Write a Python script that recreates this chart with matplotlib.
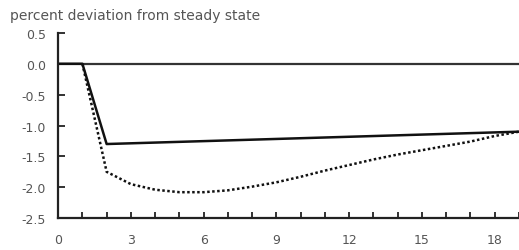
import numpy as np
import matplotlib.pyplot as plt

# periods and responses (percent deviation from steady state)
zero_x = [0, 19]
zero_y = [0.0, 0.0]

solid_x = [0, 1, 2, 19]
solid_y = [0.0, 0.0, -1.30, -1.10]

dotted_x = [1, 2, 3, 4, 5, 6, 7, 8, 9, 10, 11, 12, 13, 14, 15, 16, 17, 18, 19]
dotted_y = [0.0, -1.75, -1.95, -2.04, -2.08, -2.08, -2.05, -1.99, -1.92, -1.83,
            -1.73, -1.64, -1.55, -1.47, -1.40, -1.33, -1.26, -1.17, -1.10]

fig = plt.figure(figsize=(5.19, 2.51), dpi=100)
ax = fig.add_axes([0.112, 0.127, 0.888, 0.738])

ax.plot(zero_x, zero_y, color='#333333', lw=1.6, solid_capstyle='butt')
ax.plot(solid_x, solid_y, color='#111111', lw=1.8)
ax.plot(dotted_x, dotted_y, color='#111111', lw=1.8, ls=(0, (1, 1)))

ax.set_xlim(0, 19)
ax.set_ylim(-2.5, 0.5)
ax.set_xticks(np.arange(0, 19, 3))
ax.set_xticks(np.arange(0, 20, 1), minor=True)
ax.set_yticks(np.arange(-2.5, 0.51, 0.5))
ax.set_yticklabels(['%.1f' % v for v in np.arange(-2.5, 0.51, 0.5)])

for s in ['top', 'right']:
    ax.spines[s].set_visible(False)
for s in ['left', 'bottom']:
    ax.spines[s].set_linewidth(1.6)
    ax.spines[s].set_color('#222222')

ax.tick_params(axis='both', which='both', direction='in', colors='#222222',
               labelcolor='#555555', labelsize=9, width=1.3)
ax.tick_params(axis='y', length=5, pad=9)
ax.tick_params(axis='x', which='both', length=4, pad=11)

fig.text(0.019, 0.936, 'percent deviation from steady state', fontsize=10,
         color='#555555', ha='left', va='center')

fig.savefig('out.png', dpi=100)
